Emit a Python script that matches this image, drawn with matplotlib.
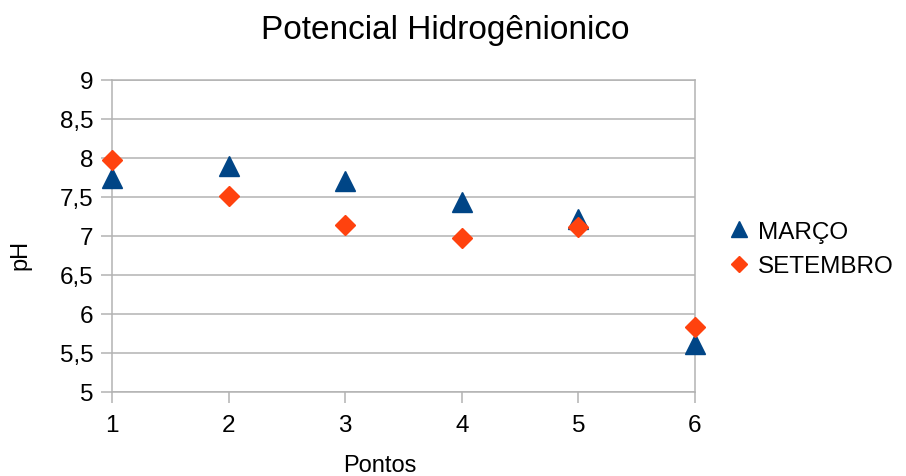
import matplotlib
matplotlib.use("Agg")
import matplotlib.pyplot as plt

plt.rcParams['font.family'] = ['Liberation Sans', 'DejaVu Sans']

pontos = [1, 2, 3, 4, 5, 6]
marco = [7.74, 7.90, 7.71, 7.43, 7.22, 5.61]
setembro = [7.98, 7.51, 7.14, 6.98, 7.11, 5.83]
y_ticks = [5, 5.5, 6, 6.5, 7, 7.5, 8, 8.5, 9]
y_tick_labels = ['5', '5,5', '6', '6,5', '7', '7,5', '8', '8,5', '9']
x_tick_labels = ['1', '2', '3', '4', '5', '6']

W, H = 906, 477
fig = plt.figure(figsize=(W / 100, H / 100), dpi=100)
ax = fig.add_axes([112 / W, 1 - 393 / H, (695 - 112) / W, (393 - 81) / H])

grid_c = '#b3b3b3'
ax.set_xlim(1, 6)
ax.set_ylim(5, 9)
ax.set_yticks(y_ticks)
ax.set_yticklabels(y_tick_labels)
ax.set_xticks(pontos)
ax.set_xticklabels(x_tick_labels)
ax.yaxis.grid(True, color=grid_c, linewidth=1.1)
ax.set_axisbelow(True)
for s in ax.spines.values():
    s.set_color(grid_c)
    s.set_linewidth(1.1)
ax.tick_params(axis='both', colors=grid_c, length=8, width=1.1, labelsize=17.5,
               labelcolor='black')
ax.tick_params(axis='y', pad=5.5)
ax.tick_params(axis='x', pad=7.5)

ax.plot(pontos, marco, linestyle='none', marker='^', markersize=14,
        color='#004586', label='MARÇO', clip_on=False, zorder=3)
ax.plot(pontos, setembro, linestyle='none', marker='D', markersize=9.8,
        color='#ff420e', label='SETEMBRO', clip_on=False, zorder=4)

fig.text(445 / W, 1 - 30 / H, 'Potencial Hidrogênionico', ha='center', va='center',
         fontsize=24)
fig.text(380 / W, 1 - 472 / H, 'Pontos', ha='center', va='baseline', fontsize=17)
fig.text(20 / W, 1 - 255 / H, 'pH', ha='center', va='center', rotation=90,
         fontsize=17)

leg = fig.legend(loc='center left', bbox_to_anchor=(715 / W, 1 - 250 / H),
                 frameon=False, fontsize=17.5, handletextpad=0.25,
                 handlelength=1.0, labelspacing=0.5, borderpad=0,
                 markerscale=0.85)

fig.savefig('out.png', dpi=100)
